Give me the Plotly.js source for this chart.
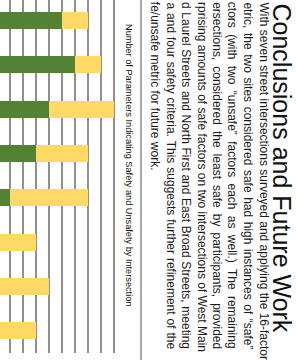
<!DOCTYPE html>
<html>
<head>
<meta charset="utf-8">
<script src="https://cdn.plot.ly/plotly-3.0.1.min.js"></script>
<style>
html,body{margin:0;padding:0;background:#fff;}
#chart{width:296px;height:360px;}
</style>
</head>
<body>
<div id="chart"></div>
<script>
// ---- data ----
var intersections = ['Intersection 1','Intersection 2','Intersection 3','Intersection 4','Intersection 5','Intersection 6','Intersection 7','Intersection 8'];
var safeCounts   = [5, 6, 4, 3, 1, 0, 0, 0];
var unsafeCounts = [2, 2, 5, 4, 6, 3, 4, 3];
var chartTitle = 'Number of Parameters Indicating Safety and Unsafety by Intersection';
var sectionTitle = 'Conclusions and Future Work';
var paragraphLines = [
  'With seven street intersections surveyed and applying the 16-factor',
  'etric, the two sites considered safe had high instances of \u201csafe\u201d',
  'ctors (with two \u201cunsafe\u201d factors each as well.) The remaining',
  'ersections, considered the least safe by participants, provided',
  'rprising amounts of safe factors on two intersections of West Main',
  'd Laurel Streets and North First and East Broad Streets, meeting',
  'a and four safety criteria. This suggests further refinement of the',
  'fe/unsafe metric for future work.'
];

var W = 296, H = 360;
var FONT = 'Liberation Sans, Arial, sans-serif';
var PARA_SIZE = 12;
var LINE_START = 1, LINE_END = 348;

// justify lines (all but the last) by measuring natural width and adding word spacing
var cv = document.createElement('canvas').getContext('2d');
cv.font = PARA_SIZE + 'px "Liberation Sans"';
function justify(line, isLast) {
  if (isLast) return line;
  var w = cv.measureText(line).width;
  var gaps = (line.match(/ /g) || []).length;
  var extra = gaps ? Math.max(0, (LINE_END - LINE_START - w) / gaps) : 0;
  return '<span style="word-spacing:' + extra.toFixed(2) + 'px">' + line + '</span>';
}

var traces = [
  {type:'bar', orientation:'h', y:intersections, x:safeCounts, name:'Safe',
   marker:{color:'#548235'}, hoverinfo:'none'},
  {type:'bar', orientation:'h', y:intersections, x:unsafeCounts, name:'Unsafe',
   marker:{color:'#FFD966'}, hoverinfo:'none'}
];

var annotations = [];
annotations.push({
  text: chartTitle, textangle: 90, xref:'paper', yref:'paper',
  x: 129/W, y: 1 - 165/H, xanchor:'center', yanchor:'middle', showarrow:false,
  font:{family:FONT, size:9.2, color:'#111'}
});
annotations.push({
  text: sectionTitle, textangle: 90, xref:'paper', yref:'paper',
  x: 281.5/W, y: 1 - 168/H, xanchor:'center', yanchor:'middle', showarrow:false,
  font:{family:FONT, size:25, color:'#111'}
});
for (var i = 0; i < paragraphLines.length; i++) {
  annotations.push({
    text: justify(paragraphLines[i], i === paragraphLines.length - 1),
    textangle: 90, xref:'paper', yref:'paper',
    x: (263.5 - 15.4*i)/W, y: 1, xanchor:'center', yanchor:'top', showarrow:false,
    font:{family:FONT, size:PARA_SIZE, color:'#1a1a1a'}
  });
}

var layout = {
  width: W, height: H,
  margin:{l:0, r:0, t:0, b:0, pad:0},
  paper_bgcolor:'#fff', plot_bgcolor:'#fff',
  barmode:'stack', bargap:0.62,
  showlegend:false,
  xaxis:{domain:[0, 118/W], range:[0.23, 9.3], dtick:1, tick0:0,
         showgrid:true, gridcolor:'#8f8f8f', gridwidth:1.5,
         zeroline:false, showline:false, showticklabels:false, ticks:''},
  yaxis:{domain:[1 - 353/H, 1], range:[7.5, -0.46], type:'category',
         showgrid:false, zeroline:false, showline:false, showticklabels:false, ticks:''},
  shapes:[
    {type:'line', xref:'paper', yref:'paper', x0:141/W, x1:141/W, y0:0, y1:1,
     line:{color:'#7a7a7a', width:1.3}}
  ],
  annotations: annotations
};

Plotly.newPlot('chart', traces, layout, {displayModeBar:false, staticPlot:true});
</script>
</body>
</html>
